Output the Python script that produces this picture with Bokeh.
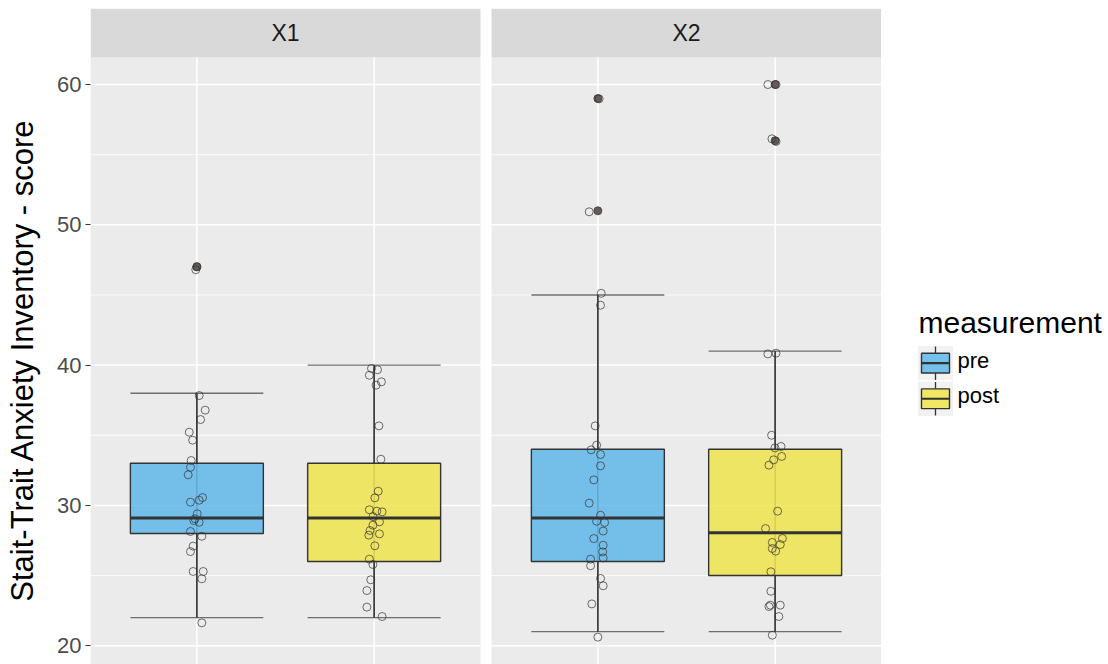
import math
from bokeh.plotting import figure
from bokeh.models import Range1d, FixedTicker, ColumnDataSource
from bokeh.layouts import row
from bokeh.embed import file_html
from bokeh.resources import INLINE
from bokeh.core.properties import value

# ---------------- data ----------------
groups = ["X1", "X2"]
measurements = ["pre", "post"]
meas_colors = ["#56B4E9", "#F0E442"]

# box statistics, order: X1 pre, X1 post, X2 pre, X2 post
box_group = ["X1", "X1", "X2", "X2"]
box_meas = ["pre", "post", "pre", "post"]
whisker_low = [22, 22, 21, 21]
q1 = [28, 26, 26, 25]
median = [29.1, 29.1, 29.1, 28.05]
q3 = [33, 33, 34, 34]
whisker_high = [38, 40, 45, 41]

# outliers
out_group = ["X1", "X2", "X2", "X2", "X2"]
out_meas = ["pre", "pre", "pre", "post", "post"]
out_value = [47, 51, 59, 56, 60]

# jittered raw observations (value, horizontal jitter in category units)
x1_pre = [37.83, 36.79, 36.12, 35.22, 34.65, 33.2, 32.72, 32.18, 30.56, 30.37, 30.23, 29.4, 29.05,
          28.8, 28.92, 28.14, 27.8, 27.1, 26.71, 25.29, 25.29, 24.77, 21.63, 47.03, 46.8]
x1_pre_jit = [0.013, 0.047, 0.021, -0.043, -0.024, -0.032, -0.036, -0.049, 0.032, 0.013, -0.036, 0.002, -0.010,
              0.013, -0.017, -0.036, 0.028, -0.021, -0.036, -0.021, 0.036, 0.028, 0.028, 0.0, -0.006]
x1_post = [39.76, 39.67, 39.28, 38.81, 38.57, 35.67, 33.29, 31.01, 30.54, 29.69, 29.59, 29.54, 28.83,
           28.59, 28.21, 27.97, 27.88, 27.12, 26.17, 25.79, 24.7, 23.93, 22.75, 22.08, 29.2]
x1_post_jit = [-0.015, 0.019, -0.027, 0.041, 0.011, 0.027, 0.038, 0.023, 0.004, -0.027, 0.015, 0.045, 0.030,
               -0.007, -0.023, 0.030, -0.030, 0.004, -0.027, -0.007, -0.019, -0.041, -0.041, 0.045, -0.006]
x2_pre = [45.12, 44.27, 35.67, 34.29, 33.96, 33.63, 32.82, 31.82, 30.16, 29.3, 28.87, 28.78, 28.17,
          27.64, 27.16, 26.69, 26.26, 26.17, 25.7, 24.79, 24.27, 22.98, 20.61, 50.93, 58.98]
x2_pre_jit = [0.019, 0.015, -0.015, -0.007, -0.038, 0.015, 0.015, -0.023, -0.049, 0.015, -0.007, 0.038, 0.030,
              -0.023, 0.030, 0.027, 0.030, -0.041, -0.041, 0.015, 0.030, -0.034, 0.0, -0.049, 0.007]
x2_post = [35.0, 34.1, 34.2, 33.49, 33.25, 32.87, 29.59, 28.35, 27.64, 27.36, 27.21, 26.93, 26.74,
           25.27, 23.88, 22.79, 22.89, 22.89, 22.08, 20.75, 40.8, 40.85, 56.13, 55.94, 60.0, 60.0]
x2_post_jit = [-0.020, -0.001, 0.033, 0.037, -0.008, -0.035, 0.014, -0.054, 0.041, -0.016, 0.029, -0.016, 0.003,
               -0.024, -0.024, -0.035, -0.027, 0.029, 0.021, -0.016, -0.041, 0.005, -0.018, 0.005, -0.041, 0.005]

y_ticks = [20, 30, 40, 50, 60]
y_minor = [25, 35, 45, 55]
y_label = "Stait-Trait Anxiety Inventory - score"
legend_title = "measurement"

# ---------------- layout constants ----------------
FONT = "Liberation Sans"
GROUP_OFFSET = {"X1": 0.0, "X2": 2.262}
MEAS_POS = {"pre": 1.0, "post": 2.0}
Y_LO, Y_HI = 18.66, 65.42
PANEL_TOP = 61.93
BOX_W = 0.75
COLOR = dict(zip(measurements, meas_colors))
TITLE_W, MAIN_RIGHT, TOTAL_W, TOTAL_H = 45, 881, 1108, 664


def xpos(g, m):
    return GROUP_OFFSET[g] + MEAS_POS[m]


def blank(fig):
    fig.axis.visible = False
    fig.grid.visible = False
    fig.outline_line_color = None
    fig.background_fill_color = "white"
    fig.border_fill_color = "white"


# ---------------- y-axis title strip ----------------
tf = figure(width=TITLE_W, height=TOTAL_H, x_range=Range1d(0, TITLE_W), y_range=Range1d(0, TOTAL_H),
            output_backend="svg", toolbar_location=None, min_border=0)
blank(tf)
tf.text(x=[22], y=[TOTAL_H - 356], text=[y_label], angle=math.pi / 2, text_font=value(FONT),
        text_font_size="31px", text_color="black", text_align="center", text_baseline="middle")

# ---------------- main panel figure ----------------
p = figure(width=MAIN_RIGHT - TITLE_W, height=TOTAL_H, x_range=Range1d(0.4, 2.6 + GROUP_OFFSET["X2"]),
           y_range=Range1d(Y_LO, Y_HI), output_backend="svg", toolbar_location=None,
           min_border_left=90 - TITLE_W, min_border_right=0, min_border_top=8, min_border_bottom=0)
p.xaxis.visible = False
p.xgrid.visible = False
p.ygrid.visible = False
p.outline_line_color = None
p.background_fill_color = "white"
p.border_fill_color = "white"

ax = p.yaxis[0]
ax.ticker = FixedTicker(ticks=y_ticks)
ax.axis_line_color = None
ax.major_tick_line_color = "#333333"
ax.major_tick_line_width = 1.2
ax.major_tick_out = 5
ax.major_tick_in = 0
ax.minor_tick_line_color = None
ax.major_label_text_font = FONT
ax.major_label_text_font_size = "22px"
ax.major_label_text_color = "#4D4D4D"
ax.major_label_standoff = 4

# panels & strips
pl = [GROUP_OFFSET[g] + 0.4 for g in groups]
pr = [GROUP_OFFSET[g] + 2.6 for g in groups]
p.quad(left=pl, right=pr, bottom=Y_LO, top=PANEL_TOP, fill_color="#EBEBEB", line_color=None)
p.quad(left=pl, right=pr, bottom=PANEL_TOP, top=Y_HI, fill_color="#D9D9D9", line_color=None)
p.text(x=[GROUP_OFFSET[g] + 1.5 for g in groups], y=(PANEL_TOP + Y_HI) / 2, text=groups,
       text_font=value(FONT), text_font_size="23px", text_color="#1A1A1A",
       text_align="center", text_baseline="middle")

# gridlines
for g in groups:
    x0, x1 = GROUP_OFFSET[g] + 0.4, GROUP_OFFSET[g] + 2.6
    p.segment(x0=x0, x1=x1, y0=y_minor, y1=y_minor, line_color="white", line_width=0.8)
    p.segment(x0=x0, x1=x1, y0=y_ticks, y1=y_ticks, line_color="white", line_width=1.5)
    xs = [xpos(g, m) for m in measurements]
    p.segment(x0=xs, x1=xs, y0=Y_LO, y1=PANEL_TOP, line_color="white", line_width=1.5)

bx = [xpos(g, m) for g, m in zip(box_group, box_meas)]
src = ColumnDataSource(dict(
    x=bx, left=[v - BOX_W / 2 for v in bx], right=[v + BOX_W / 2 for v in bx],
    lo=whisker_low, q1=q1, med=median, q3=q3, hi=whisker_high,
    fill=[COLOR[m] for m in box_meas]))

# error bars (under the boxes)
p.segment(x0="x", x1="x", y0="lo", y1="hi", source=src, line_color="#555555", line_width=1.2)
p.segment(x0="left", x1="right", y0="lo", y1="lo", source=src, line_color="#6E6E6E", line_width=1.4)
p.segment(x0="left", x1="right", y0="hi", y1="hi", source=src, line_color="#6E6E6E", line_width=1.4)

# boxes
p.quad(left="left", right="right", bottom="q1", top="q3", source=src, fill_color="fill",
       fill_alpha=0.8, line_color="#333333", line_width=1.4)
p.segment(x0="x", x1="x", y0="q3", y1="hi", source=src, line_color="#333333", line_width=1.4)
p.segment(x0="x", x1="x", y0="lo", y1="q1", source=src, line_color="#333333", line_width=1.4)
p.segment(x0="left", x1="right", y0="med", y1="med", source=src, line_color="#333333", line_width=3)

# outliers
p.scatter(x=[xpos(g, m) for g, m in zip(out_group, out_meas)], y=out_value, size=8,
          fill_color="#4A4040", line_color="#4A4040", fill_alpha=0.85, line_alpha=0.85)

# jitter
for g, m, vals, jit in [("X1", "pre", x1_pre, x1_pre_jit), ("X1", "post", x1_post, x1_post_jit),
                        ("X2", "pre", x2_pre, x2_pre_jit), ("X2", "post", x2_post, x2_post_jit)]:
    p.scatter(x=[xpos(g, m) + j for j in jit], y=vals, size=8, fill_color=None,
              line_color="#333333", line_alpha=0.7, line_width=1)

# ---------------- legend (separate panel, page-pixel coordinates) ----------------
LW = TOTAL_W - MAIN_RIGHT
leg = figure(width=LW, height=TOTAL_H, x_range=Range1d(MAIN_RIGHT, TOTAL_W), y_range=Range1d(TOTAL_H, 0),
             output_backend="svg", toolbar_location=None, min_border=0)
blank(leg)

leg.text(x=[918], y=[318], text=[legend_title], text_font=value(FONT), text_font_size="30px",
         text_color="black", text_baseline="alphabetic", text_align="left")
key_top = [341, 377]
key_h = 36
kl, kr = 917, 953
cx = (kl + kr) / 2
leg.quad(left=kl, right=kr, top=key_top, bottom=[t + key_h for t in key_top],
         fill_color="#F2F2F2", line_color="white", line_width=1)
leg.segment(x0=cx, x1=cx, y0=[t + 1 for t in key_top], y1=[t + 8 for t in key_top],
            line_color="#333333", line_width=1.3)
leg.segment(x0=cx, x1=cx, y0=[t + 28 for t in key_top], y1=[t + key_h - 1 for t in key_top],
            line_color="#333333", line_width=1.3)
leg.quad(left=kl + 4, right=kr - 4, top=[t + 8 for t in key_top], bottom=[t + 28 for t in key_top],
         fill_color=meas_colors, fill_alpha=0.8, line_color="#333333", line_width=1.4)
leg.segment(x0=kl + 4, x1=kr - 4, y0=[t + 18 for t in key_top], y1=[t + 18 for t in key_top],
            line_color="#333333", line_width=2.2)
leg.text(x=[957, 957], y=[t + 15 for t in key_top], text=measurements, text_font=value(FONT),
         text_font_size="22px", text_color="black", text_baseline="middle", text_align="left")

layout = row(tf, p, leg, spacing=0)
open("out.html", "w").write(file_html(layout, INLINE))
